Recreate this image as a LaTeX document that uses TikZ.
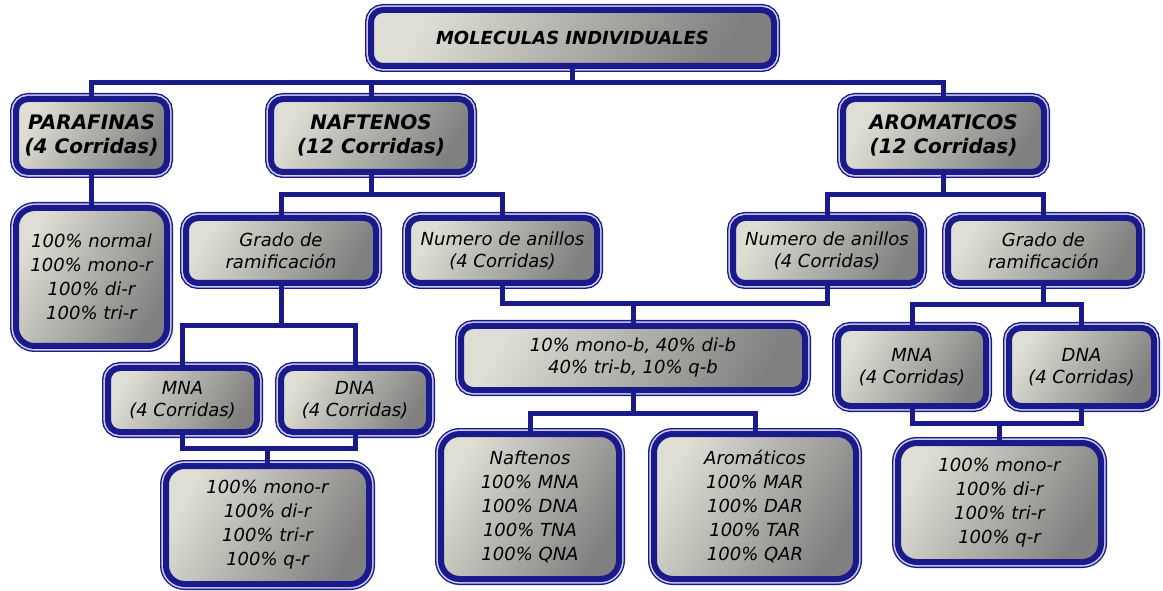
\documentclass[tikz,border=0pt]{standalone}
\usepackage{fontspec}
\setmainfont{DejaVu Sans}
\definecolor{navy}{RGB}{26,26,138}
\definecolor{lav}{RGB}{205,205,245}
\definecolor{gl}{RGB}{222,222,212}
\definecolor{gd}{RGB}{128,128,128}
\tikzset{
  boxbase/.style={rounded corners=9pt, inner sep=0pt, outer sep=0pt, align=center,
    preaction={draw=navy, line width=9pt},
    preaction={draw=lav, line width=6.9pt},
    draw=navy, line width=4.5pt,
    top color=gl, bottom color=gd, shading angle=60,
    font=\itshape\fontsize{13.5}{16.5}\selectfont},
  leafbox/.style={rounded corners=14pt, font=\itshape\fontsize{13.5}{18}\selectfont},
  headbox/.style={font=\bfseries\itshape\fontsize{15}{17.5}\selectfont},
  titlebox/.style={font=\bfseries\itshape\fontsize{13.5}{16}\selectfont},
  conn/.style={draw=navy, line width=3.75pt}
}
\newcommand{\bx}[7][]{\node[boxbase,#1,minimum width={(#5-#3-12)*0.75pt},minimum height={(#6-#4-12)*0.75pt}] (#2) at ({(#3+#5)/2},{(#4+#6)/2}) {#7};}
\begin{document}
\begin{tikzpicture}[x=0.75pt,y=-0.75pt]
\useasboundingbox[fill=white] (0,0) rectangle (1163,591);
% boxes
\bx[titlebox]{top}{365}{4}{780}{72}{MOLECULAS INDIVIDUALES}
\bx[headbox]{par}{10}{93}{173}{178}{PARAFINAS\\(4 Corridas)}
\bx[headbox]{naf}{265}{93}{477}{178}{NAFTENOS\\(12 Corridas)}
\bx[headbox]{aro}{837}{93}{1050}{178}{AROMATICOS\\(12 Corridas)}
\bx[leafbox]{parleaf}{10}{202}{173}{352}{100\% normal\\100\% mono-r\\100\% di-r\\100\% tri-r}
\bx{gradoL}{180}{212}{382}{289}{Grado de\\ramificación}
\bx{numL}{402}{212}{603}{289}{Numero de anillos\\(4 Corridas)}
\bx{numR}{727}{212}{927}{289}{Numero de anillos\\(4 Corridas)}
\bx{gradoR}{942}{212}{1145}{289}{Grado de\\ramificación}
\bx{mid}{455}{320}{811}{396}{10\% mono-b, 40\% di-b\\40\% tri-b, 10\% q-b}
\bx{mnaL}{102}{362}{263}{438}{MNA\\(4 Corridas)}
\bx{dnaL}{275}{362}{435}{438}{DNA\\(4 Corridas)}
\bx[leafbox]{leafL}{160}{460}{375}{590}{100\% mono-r\\100\% di-r\\100\% tri-r\\100\% q-r}
\bx{mnaR}{832}{322}{992}{412}{MNA\\(4 Corridas)}
\bx{dnaR}{1003}{322}{1160}{412}{DNA\\(4 Corridas)}
\bx[leafbox]{leafR}{892}{437}{1107}{568}{100\% mono-r\\100\% di-r\\100\% tri-r\\100\% q-r}
\bx[leafbox]{naft}{435}{428}{625}{585}{Naftenos\\100\% MNA\\100\% DNA\\100\% TNA\\100\% QNA}
\bx[leafbox]{arom}{648}{428}{862}{585}{Aromáticos\\100\% MAR\\100\% DAR\\100\% TAR\\100\% QAR}
% bus levels
\coordinate (b1) at (0,83);
\coordinate (b2) at (0,195);
\coordinate (b3) at (0,304);
\coordinate (b4) at (0,326);
\coordinate (b5) at (0,448);
\coordinate (b6) at (0,413);
\coordinate (b7) at (0,305);
\coordinate (b8) at (0,423);
% connectors
\draw[conn] (top.south) -- (top.south |- b1) -| (par.north);
\draw[conn] (top.south) -- (top.south |- b1) -| (naf.north);
\draw[conn] (top.south) -- (top.south |- b1) -| (aro.north);
\draw[conn] (par.south) -- (parleaf.north);
\draw[conn] (naf.south) -- (naf.south |- b2) -| (gradoL.north);
\draw[conn] (naf.south) -- (naf.south |- b2) -| (numL.north);
\draw[conn] (aro.south) -- (aro.south |- b2) -| (numR.north);
\draw[conn] (aro.south) -- (aro.south |- b2) -| (gradoR.north);
\draw[conn] (numL.south) -- (numL.south |- b3) -| (mid.north);
\draw[conn] (numR.south) -- (numR.south |- b3) -| (mid.north);
\draw[conn] (gradoL.south) -- (gradoL.south |- b4) -| (mnaL.north);
\draw[conn] (gradoL.south) -- (gradoL.south |- b4) -| (dnaL.north);
\draw[conn] (mnaL.south) -- (mnaL.south |- b5) -| (leafL.north);
\draw[conn] (dnaL.south) -- (dnaL.south |- b5) -| (leafL.north);
\draw[conn] (mid.south) -- (mid.south |- b6) -| (naft.north);
\draw[conn] (mid.south) -- (mid.south |- b6) -| (arom.north);
\draw[conn] (gradoR.south) -- (gradoR.south |- b7) -| (mnaR.north);
\draw[conn] (gradoR.south) -- (gradoR.south |- b7) -| (dnaR.north);
\draw[conn] (mnaR.south) -- (mnaR.south |- b8) -| (leafR.north);
\draw[conn] (dnaR.south) -- (dnaR.south |- b8) -| (leafR.north);
\end{tikzpicture}
\end{document}
